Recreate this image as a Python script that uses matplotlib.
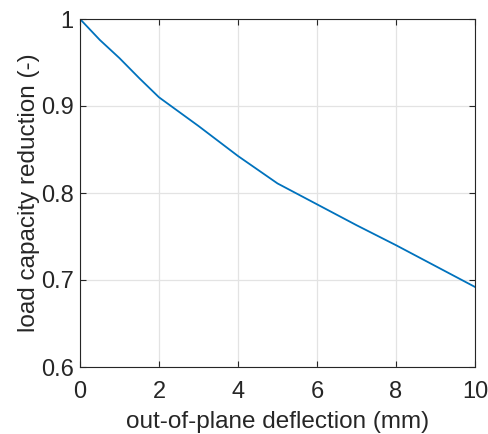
import matplotlib
matplotlib.use("Agg")
import matplotlib.pyplot as plt

# deflection (mm) and load capacity reduction factor
deflection = [0, 0.5, 1, 1.5, 2, 3, 4, 5, 6, 7, 8, 9, 10]
reduction = [1.0, 0.976, 0.955, 0.932, 0.910, 0.877, 0.8425, 0.811,
             0.787, 0.763, 0.740, 0.716, 0.692]

plt.rcParams["font.family"] = ["Liberation Sans", "DejaVu Sans"]
ink = "#262626"

fig = plt.figure(figsize=(4.89, 4.34), dpi=100)
ax = fig.add_axes([80 / 489, 1 - 367 / 434, 395 / 489, 348 / 434])

ax.plot(deflection, reduction, color="#0072BD", linewidth=1.3)

ax.set_xlim(0, 10)
ax.set_ylim(0.6, 1)
ax.set_xticks([0, 2, 4, 6, 8, 10])
ax.set_yticks([0.6, 0.7, 0.8, 0.9, 1.0])
ax.set_yticklabels(["0.6", "0.7", "0.8", "0.9", "1"])
ax.grid(True, color="#e3e3e3", linewidth=0.9)
ax.set_axisbelow(True)

ax.tick_params(direction="in", top=True, right=True, length=4, width=0.8,
               colors=ink, labelsize=17)
ax.tick_params(axis="x", pad=10)
ax.tick_params(axis="y", pad=4.5)
for s in ax.spines.values():
    s.set_color(ink)
    s.set_linewidth(0.8)

ax.set_xlabel("out-of-plane deflection (mm)", fontsize=17.5, color=ink, labelpad=6)
ax.set_ylabel("load capacity reduction (-)", fontsize=17.5, color=ink, labelpad=0.5)

fig.savefig("out.png", dpi=100)
